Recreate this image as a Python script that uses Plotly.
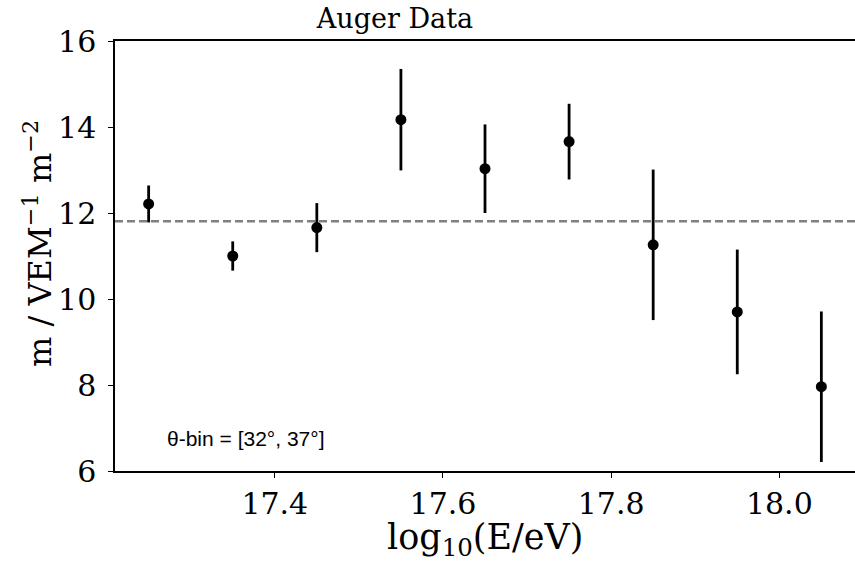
import plotly.graph_objects as go

# Data
log_energy = [17.25, 17.35, 17.45, 17.55, 17.65, 17.75, 17.85, 17.95, 18.05]
muon_density = [12.21, 11.00, 11.66, 14.17, 13.03, 13.66, 11.26, 9.70, 7.96]
muon_err = [0.43, 0.34, 0.57, 1.18, 1.03, 0.88, 1.75, 1.45, 1.75]
mean_level = 11.81
x_ticks = [17.4, 17.6, 17.8, 18.0]
x_tick_text = ["17.4", "17.6", "17.8", "18.0"]
y_ticks = [6, 8, 10, 12, 14, 16]

SERIF = "DejaVu Serif"

fig = go.Figure()

fig.add_trace(go.Scatter(
    x=log_energy, y=muon_density,
    mode="markers",
    marker=dict(color="black", size=11),
    error_y=dict(type="data", array=muon_err, visible=True,
                 color="black", thickness=2.8, width=0),
    showlegend=False,
))

fig.add_shape(type="line", xref="paper", x0=0, x1=1, yref="y",
              y0=mean_level, y1=mean_level,
              line=dict(color="#808080", width=2.5, dash="8px,4px"),
              layer="below")

fig.add_annotation(text="θ-bin = [32°, 37°]", xref="paper", yref="paper",
                   x=0.068, y=0.075, xanchor="left", yanchor="middle",
                   showarrow=False,
                   font=dict(family="Liberation Sans", size=21, color="black"))

# axis titles as annotations for precise placement
fig.add_annotation(text="log<sub>10</sub>(E/eV)", xref="paper", yref="paper",
                   x=0.5, y=0, xanchor="center", yanchor="middle",
                   yshift=-68, showarrow=False,
                   font=dict(family=SERIF, size=35, color="black"))
fig.add_annotation(text="m / VEM<sup>−1</sup> m<sup>−2</sup>", xref="paper", yref="paper",
                   x=0, y=0.5, xanchor="center", yanchor="middle", textangle=-90,
                   xshift=-77, yshift=12, showarrow=False,
                   font=dict(family=SERIF, size=32, color="black"))

fig.update_layout(
    width=855, height=562,
    margin=dict(l=115, r=0, t=41, b=91),
    paper_bgcolor="white", plot_bgcolor="white",
    title=dict(text="Auger Data", xref="container", x=395/855, xanchor="center",
               yref="container", y=1 - 19/562, yanchor="middle",
               font=dict(family=SERIF, size=27, color="black")),
    font=dict(family=SERIF, color="black"),
)

fig.update_xaxes(
    range=[17.21, 18.09],
    tickvals=x_ticks, ticktext=x_tick_text,
    ticks="outside", ticklen=5, tickwidth=1.3, tickcolor="black",
    tickfont=dict(family=SERIF, size=30, color="black"),
    ticklabelstandoff=0,
    showline=True, linecolor="black", linewidth=1.5, mirror=True,
    showgrid=False, zeroline=False,
)

fig.update_yaxes(
    range=[6, 16],
    tickvals=y_ticks,
    ticks="outside", ticklen=5, tickwidth=1.3, tickcolor="black",
    tickfont=dict(family=SERIF, size=30, color="black"),
    ticklabelstandoff=6,
    showline=True, linecolor="black", linewidth=1.5, mirror=False,
    showgrid=False, zeroline=False,
)

fig.write_html("out.html", config={"displayModeBar": False},
               post_script="document.body.style.margin='0';document.body.style.padding='0';")
